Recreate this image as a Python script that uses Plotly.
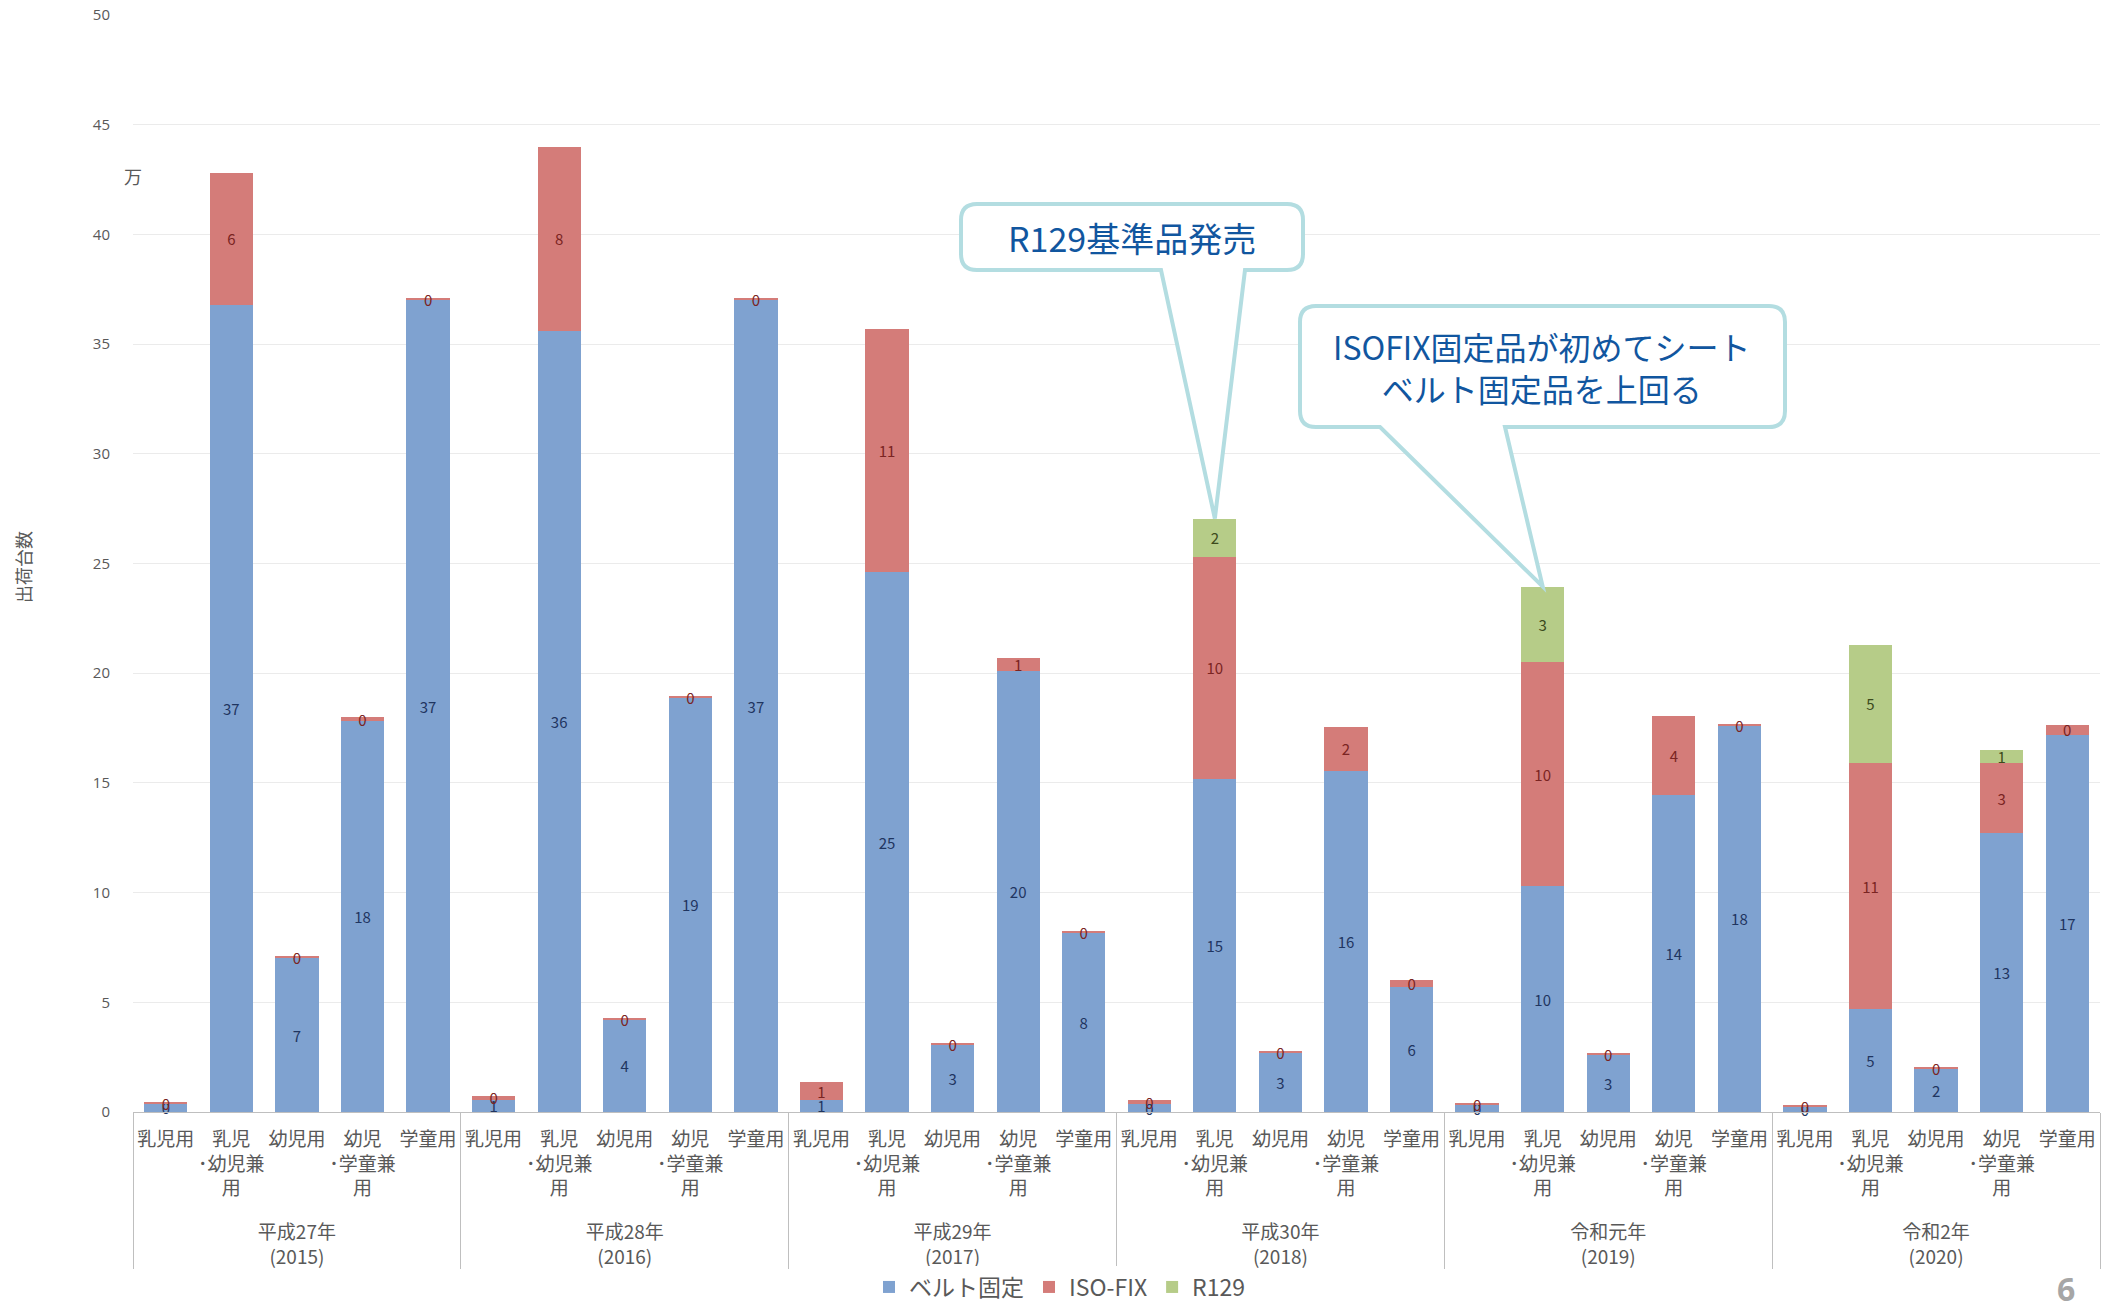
import plotly.graph_objects as go

# ---------------- data ----------------
years = ["　<br>平成27年<br>(2015)", "　<br>平成28年<br>(2016)", "　<br>平成29年<br>(2017)",
         "　<br>平成30年<br>(2018)", "　<br>令和元年<br>(2019)", "　<br>令和2年<br>(2020)"]
categories = ["乳児用", "乳児<br>･幼児兼<br>用", "幼児用", "幼児<br>･学童兼<br>用", "学童用"]

belt = [0.40, 36.8, 7.0, 17.8, 37.0,
        0.55, 35.6, 4.2, 18.9, 37.0,
        0.55, 24.6, 3.07, 20.1, 8.2,
        0.35, 15.2, 2.7, 15.55, 5.7,
        0.35, 10.3, 2.6, 14.45, 17.6,
        0.25, 4.7, 1.97, 12.7, 17.2]
isofix = [0.05, 6.0, 0.1, 0.2, 0.1,
          0.2, 8.4, 0.05, 0.05, 0.1,
          0.8, 11.1, 0.05, 0.6, 0.05,
          0.2, 10.1, 0.05, 2.0, 0.3,
          0.05, 10.2, 0.05, 3.6, 0.05,
          0.05, 11.2, 0.05, 3.2, 0.45]
r129 = [None, None, None, None, None,
        None, None, None, None, None,
        None, None, None, None, None,
        None, 1.75, None, None, None,
        None, 3.45, None, None, None,
        None, 5.4, None, 0.6, None]

series_names = ["ベルト固定", "ISO-FIX", "R129"]
callout_texts = ["R129基準品発売", "ISOFIX固定品が初めてシート<br>ベルト固定品を上回る"]

# ---------------- layout constants ----------------
W, H = 2117, 1304
ML, MR, MT, MB = 133, 17, 15, 192
PW, PH = W - ML - MR, H - MT - MB
YMAX = 50

x_year = [y for y in years for _ in categories]
x_cat = [c for _ in years for c in categories]
n = len(x_cat)

colors = ["#7FA2D0", "#D47C79", "#B6CC88"]
text_colors = ["#1F3560", "#7A2422", "#3C4A1C"]

fig = go.Figure()
for name, vals, col, tcol in zip(series_names, [belt, isofix, r129], colors, text_colors):
    fig.add_trace(go.Bar(
        name=name, x=[x_year, x_cat], y=vals,
        marker=dict(color=col, line=dict(width=0)),
        texttemplate="%{y:.0f}", textposition="inside", insidetextanchor="middle",
        textangle=0, textfont=dict(size=15, color=tcol, family="Noto Sans CJK JP"),
        cliponaxis=False,
    ))


def px2paper_x(px):
    return (px - ML) / PW


def px2paper_y(py):
    return (H - MB - py) / PH


def callout(x0, x1, ytop, ybot, bx0, bx1, tipx, tipy, r=16):
    rx, ry = r / PW, r / PH
    p = (f"M {x0+rx},{ytop} L {x1-rx},{ytop} Q {x1},{ytop} {x1},{ytop-ry} "
         f"L {x1},{ybot+ry} Q {x1},{ybot} {x1-rx},{ybot} "
         f"L {bx1},{ybot} L {tipx},{tipy} L {bx0},{ybot} "
         f"L {x0+rx},{ybot} Q {x0},{ybot} {x0},{ybot+ry} "
         f"L {x0},{ytop-ry} Q {x0},{ytop} {x0+rx},{ytop} Z")
    return p


def bar_top(idx):
    return sum(v for v in (belt[idx], isofix[idx], r129[idx]) if v is not None)


shapes = []
annotations = []

# callout 1 -> 平成30年 乳児・幼児兼用 (index 16)
i1 = 16
tip1 = ((i1 + 0.5) / n, bar_top(i1) / YMAX)
b1 = dict(x0=px2paper_x(961), x1=px2paper_x(1303), ytop=px2paper_y(204), ybot=px2paper_y(270),
          bx0=px2paper_x(1161), bx1=px2paper_x(1245))
# callout 2 -> 令和元年 乳児・幼児兼用 (index 21)
i2 = 21
tip2 = ((i2 + 0.5) / n, bar_top(i2) / YMAX)
b2 = dict(x0=px2paper_x(1300), x1=px2paper_x(1785), ytop=px2paper_y(306), ybot=px2paper_y(427),
          bx0=px2paper_x(1380), bx1=px2paper_x(1505))

for b, tip, txt, fs in [(b1, tip1, callout_texts[0], 34), (b2, tip2, callout_texts[1], 32)]:
    shapes.append(dict(type="path", xref="paper", yref="paper",
                       path=callout(b["x0"], b["x1"], b["ytop"], b["ybot"], b["bx0"], b["bx1"], tip[0], tip[1]),
                       line=dict(color="#B3DDE1", width=4), fillcolor="white", layer="above"))
    annotations.append(dict(xref="paper", yref="paper", x=(b["x0"] + b["x1"]) / 2, y=(b["ytop"] + b["ybot"]) / 2,
                            text=txt, showarrow=False, xanchor="center", yanchor="middle",
                            font=dict(size=fs, color="#11569F", family="Noto Sans CJK JP")))

annotations += [
    dict(xref="paper", yref="paper", x=0, y=px2paper_y(176), text="万", showarrow=False,
         xanchor="center", yanchor="middle", font=dict(size=18, color="#595959", family="Noto Sans CJK JP")),
    dict(xref="paper", yref="paper", x=px2paper_x(23), y=px2paper_y(567), text="出荷台数", textangle=-90,
         showarrow=False, xanchor="center", yanchor="middle",
         font=dict(size=18, color="#595959", family="Noto Sans CJK JP")),
    dict(xref="paper", yref="paper", x=px2paper_x(2066), y=px2paper_y(1288), text="<b>6</b>", showarrow=False,
         xanchor="center", yanchor="middle", font=dict(size=32, color="#A6A6A6", family="Noto Sans")),
]

fig.update_layout(
    width=W, height=H,
    margin=dict(l=ML, r=MR, t=MT, b=MB, autoexpand=False),
    barmode="stack", bargap=0.34,
    plot_bgcolor="white", paper_bgcolor="white",
    font=dict(family="Noto Sans CJK JP", color="#595959"),
    uniformtext=dict(mode="show", minsize=15),
    legend=dict(orientation="h", x=px2paper_x(1060), xanchor="center", y=px2paper_y(1287), yanchor="middle",
                font=dict(size=23, color="#595959"), traceorder="normal", itemwidth=30),
    shapes=shapes, annotations=annotations,
    showlegend=True,
)
fig.update_xaxes(type="multicategory", showline=True, linecolor="#BFBFBF", linewidth=1,
                 showdividers=True, dividercolor="#BFBFBF", dividerwidth=1, tickangle=0,
                 automargin=False, ticklabelstandoff=10,
                 tickfont=dict(size=19, color="#595959"), showgrid=False)
fig.update_yaxes(range=[0, YMAX], dtick=5, showgrid=True, gridcolor="#EBEBEB", gridwidth=1,
                 zeroline=False, ticklabelstandoff=22, automargin=False,
                 tickfont=dict(size=15, color="#595959", family="Open Sans"))

fig.write_html("out.html")
